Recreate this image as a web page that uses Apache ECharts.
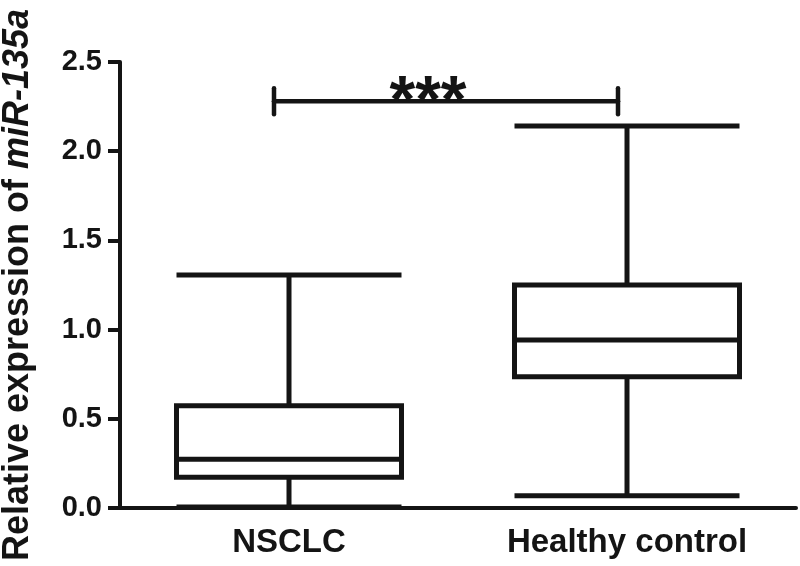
<!DOCTYPE html>
<html>
<head>
<meta charset="utf-8">
<script src="https://cdn.jsdelivr.net/npm/echarts@6/dist/echarts.min.js"></script>
<style>html,body{margin:0;padding:0;background:#fff}#c{width:800px;height:566px}</style>
</head>
<body>
<div id="c"></div>
<script>
var categories = ['NSCLC', 'Healthy control'];
// [min, Q1, median, Q3, max]
var nsclcBox = [0.005, 0.172, 0.273, 0.573, 1.306];
var healthyBox = [0.069, 0.736, 0.942, 1.25, 2.141];
var yTicks = [0, 0.5, 1.0, 1.5, 2.0, 2.5];
var sigLevel = 2.28;
var sigLabel = '***';

var FONT = '"Liberation Sans", Arial, Helvetica, sans-serif';
var INK = '#141414';

var chart = echarts.init(document.getElementById('c'), null, {renderer: 'canvas'});
chart.setOption({
  animation: false,
  backgroundColor: '#fff',
  grid: {left: 120, right: 4, top: 62, bottom: 58, containLabel: false, outerBoundsMode: 'none'},
  xAxis: {
    type: 'category',
    data: categories,
    boundaryGap: true,
    axisLine: {lineStyle: {color: INK, width: 4}},
    axisTick: {alignWithLabel: true, length: 11, lineStyle: {color: INK, width: 4}},
    axisLabel: {color: INK, fontFamily: FONT, fontWeight: 'bold', fontSize: 33, margin: 18},
    splitLine: {show: false}
  },
  yAxis: {
    type: 'value',
    min: yTicks[0],
    max: yTicks[yTicks.length - 1],
    interval: 0.5,
    name: '{a|Relative expression of }{b|miR-135a}',
    nameLocation: 'middle',
    nameRotate: 90,
    nameGap: 84,
    nameTextStyle: {
      rich: {
        a: {fontFamily: FONT, fontWeight: 'bold', fontSize: 36, color: INK},
        b: {fontFamily: FONT, fontWeight: 'bold', fontStyle: 'italic', fontSize: 36, color: INK}
      }
    },
    axisLine: {show: true, lineStyle: {color: INK, width: 4}},
    axisTick: {show: true, length: 12, lineStyle: {color: INK, width: 4}},
    axisLabel: {color: INK, fontFamily: FONT, fontWeight: 'bold', fontSize: 29, margin: 18,
      formatter: function (v) { return v.toFixed(1); }},
    splitLine: {show: false}
  },
  series: [
    {
      type: 'boxplot',
      data: [nsclcBox, healthyBox],
      boxWidth: [225, 225],
      itemStyle: {color: '#fff', borderColor: INK, borderWidth: 5},
      emphasis: {disabled: true}
    },
    {
      type: 'custom',
      data: [[0, 1, sigLevel]],
      renderItem: function (params, api) {
        var a = api.coord([api.value(0), api.value(2)]);
        var b = api.coord([api.value(1), api.value(2)]);
        var x0 = a[0] - 15, x1 = b[0] - 9, y = a[1];
        var st = {stroke: INK, lineWidth: 4.5, lineCap: 'round'};
        return {
          type: 'group',
          children: [
            {type: 'line', shape: {x1: x0, y1: y, x2: x1, y2: y}, style: st},
            {type: 'line', shape: {x1: x0, y1: y - 13, x2: x0, y2: y + 13}, style: st},
            {type: 'line', shape: {x1: x1, y1: y - 13, x2: x1, y2: y + 13}, style: st},
            {type: 'text', x: (x0 + x1) / 2 - 18, y: y + 3,
              style: {text: sigLabel, fontFamily: FONT, fontWeight: 'bold', fontSize: 66,
                fill: INK, align: 'center', verticalAlign: 'middle'}}
          ]
        };
      },
      silent: true
    }
  ]
});
</script>
</body>
</html>
